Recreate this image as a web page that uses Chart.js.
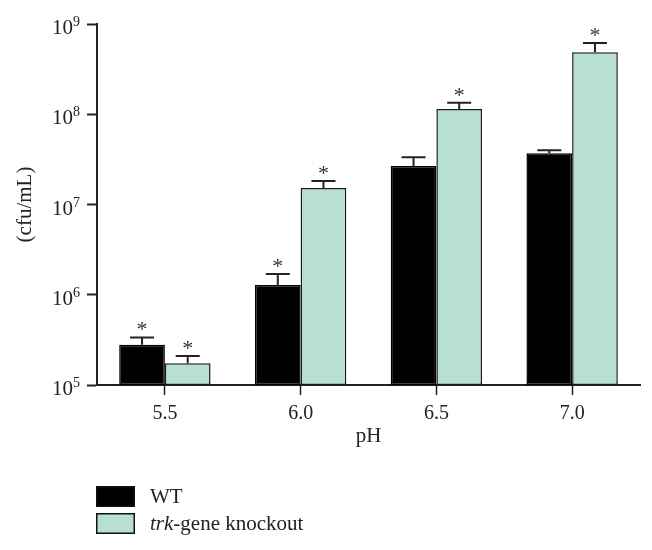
<!DOCTYPE html>
<html>
<head>
<meta charset="utf-8">
<script src="https://cdn.jsdelivr.net/npm/chart.js@4.4.1/dist/chart.umd.min.js"></script>
<style>
  body { margin: 0; background: #fff; }
  #wrap { width: 652px; height: 550px; position: relative; }
</style>
</head>
<body>
<div id="wrap"><canvas id="chart"></canvas></div>
<script>
// pH categories and cfu/mL values
const categories = ["5.5", "6.0", "6.5", "7.0"];
const wtMean  = [2.8e5, 1.28e6, 2.67e7, 3.7e7];
const wtUpper = [3.37e5, 1.7e6, 3.33e7, 3.98e7];
const koMean  = [1.74e5, 1.52e7, 1.14e8, 4.86e8];
const koUpper = [2.1e5, 1.82e7, 1.34e8, 6.16e8];
const wtStar  = [true, true, false, false];
const koStar  = [true, true, true, true];
const yTickExps = [5, 6, 7, 8, 9];
const seriesNames  = ["WT", "trk-gene knockout"];
const italicPrefix = ["", "trk"];

const SERIF = "'Liberation Serif', 'DejaVu Serif', serif";
const INK = "#222";
const GREEN = "#b7dfd2";

// error bars + significance stars
const errorBars = {
  id: "errorBars",
  afterDatasetsDraw(chart) {
    const ctx = chart.ctx;
    const y = chart.scales.y;
    const uppers = [wtUpper, koUpper];
    const stars = [wtStar, koStar];
    ctx.save();
    ctx.strokeStyle = INK;
    ctx.lineWidth = 2;
    chart.data.datasets.forEach((ds, di) => {
      chart.getDatasetMeta(di).data.forEach((bar, i) => {
        const top = y.getPixelForValue(uppers[di][i]);
        ctx.beginPath();
        ctx.moveTo(bar.x, bar.y);
        ctx.lineTo(bar.x, top);
        ctx.moveTo(bar.x - 12, top);
        ctx.lineTo(bar.x + 12, top);
        ctx.stroke();
        if (stars[di][i]) {
          ctx.fillStyle = "#333";
          ctx.font = "22px " + SERIF;
          ctx.textAlign = "center";
          ctx.textBaseline = "alphabetic";
          ctx.fillText("*", bar.x, top - 1);
        }
      });
    });
    ctx.restore();
  },
};

// y tick labels as 10 with superscript exponent, and legend
const decor = {
  id: "decor",
  afterDraw(chart) {
    const ctx = chart.ctx;
    const y = chart.scales.y;
    ctx.save();
    ctx.fillStyle = INK;
    yTickExps.forEach((e) => {
      const py = y.getPixelForValue(Math.pow(10, e));
      ctx.textAlign = "right";
      ctx.textBaseline = "alphabetic";
      ctx.font = "14px " + SERIF;
      ctx.fillText(String(e), 80, py + 2);
      const w = ctx.measureText(String(e)).width;
      ctx.font = "21px " + SERIF;
      ctx.fillText("10", 80 - w, py + 10);
    });

    // legend
    const boxes = [
      { fill: "#000", y: 486 },
      { fill: GREEN, y: 513 },
    ];
    seriesNames.forEach((name, i) => {
      const b = boxes[i];
      ctx.fillStyle = b.fill;
      ctx.fillRect(96, b.y, 39, 21);
      ctx.strokeStyle = "#111";
      ctx.lineWidth = 1.5;
      ctx.strokeRect(96.75, b.y + 0.75, 37.5, 19.5);
      ctx.fillStyle = INK;
      ctx.textAlign = "left";
      ctx.textBaseline = "middle";
      let x = 150;
      const it = italicPrefix[i];
      if (it) {
        ctx.font = "italic 21px " + SERIF;
        ctx.fillText(it, x, b.y + 11);
        x += ctx.measureText(it).width;
      }
      ctx.font = "21px " + SERIF;
      ctx.fillText(name.slice(it.length), x, b.y + 11);
    });
    ctx.restore();
  },
};

new Chart(document.getElementById("chart"), {
  type: "bar",
  data: {
    labels: categories,
    datasets: [
      {
        label: seriesNames[0],
        data: wtMean,
        backgroundColor: "#000",
        borderColor: "#000",
        borderWidth: 1.5,
        borderSkipped: false,
      },
      {
        label: seriesNames[1],
        data: koMean,
        backgroundColor: GREEN,
        borderColor: "#1a1a1a",
        borderWidth: 1.5,
        borderSkipped: false,
      },
    ],
  },
  options: {
    responsive: true,
    maintainAspectRatio: false,
    animation: false,
    events: [],
    layout: { padding: { top: 24, right: 12, left: 0, bottom: 0 } },
    datasets: { bar: { categoryPercentage: 0.673, barPercentage: 1 } },
    plugins: {
      legend: { display: false },
      tooltip: { enabled: false },
    },
    scales: {
      x: {
        afterFit: (s) => { s.height = 165; },
        grid: {
          offset: false,
          drawOnChartArea: false,
          tickLength: 10,
          tickWidth: 1.5,
          tickColor: INK,
        },
        border: { color: INK, width: 2 },
        ticks: { color: INK, padding: 7, font: { family: SERIF, size: 20 } },
        title: {
          display: true,
          text: "pH",
          color: INK,
          font: { family: SERIF, size: 21 },
          padding: { top: 0, bottom: 101 },
        },
      },
      y: {
        type: "logarithmic",
        min: 1e5,
        max: 1e9,
        afterFit: (s) => { s.width = 97; },
        afterBuildTicks: (s) => {
          s.ticks = yTickExps.map((e) => ({ value: Math.pow(10, e) }));
        },
        grid: {
          drawOnChartArea: false,
          tickLength: 10,
          tickWidth: 2,
          tickColor: INK,
        },
        border: { color: INK, width: 2 },
        ticks: { display: false },
        title: {
          display: true,
          text: "(cfu/mL)",
          color: INK,
          font: { family: SERIF, size: 21 },
          padding: { top: 13, bottom: 0 },
        },
      },
    },
  },
  plugins: [errorBars, decor],
});
</script>
</body>
</html>
